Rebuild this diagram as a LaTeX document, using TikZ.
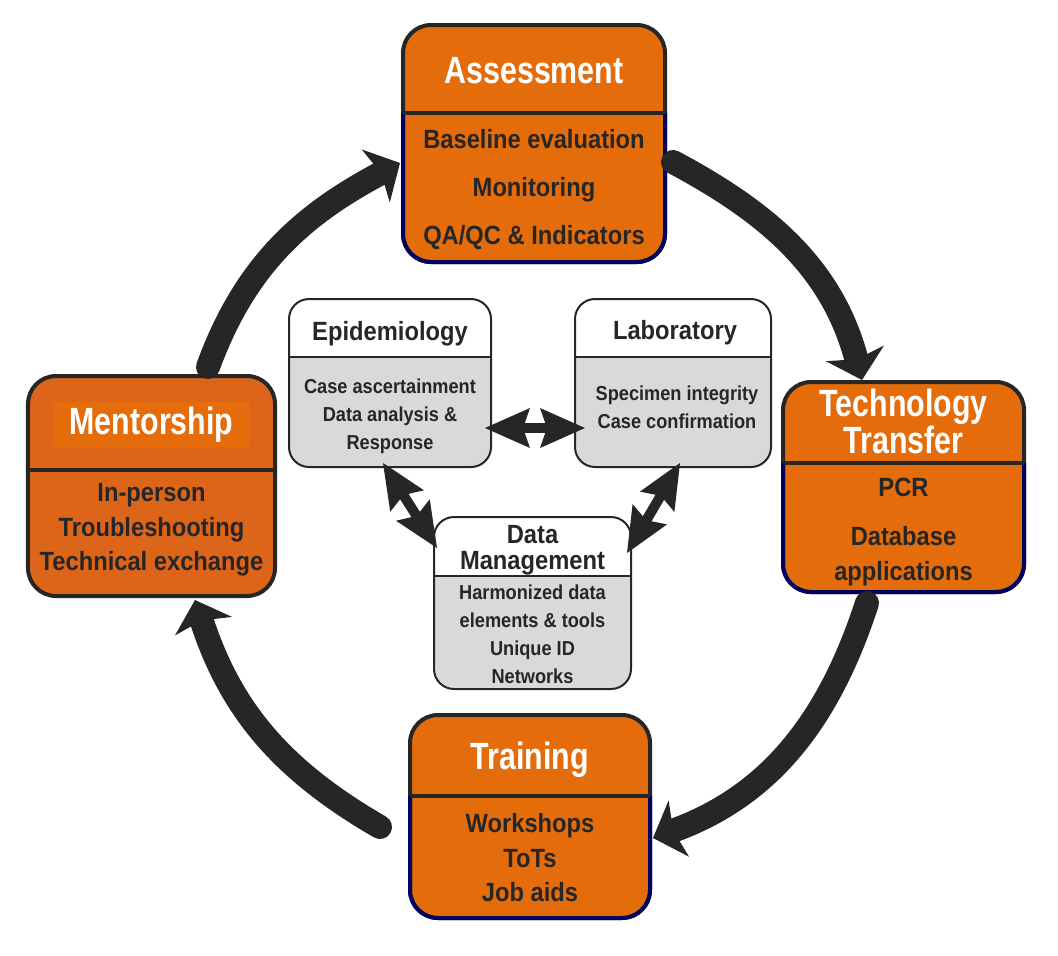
\documentclass[tikz,border=0pt]{standalone}
\usepackage{fontspec}
\setmainfont{Liberation Sans}[FakeStretch=0.9]
\newfontfamily\headfont{Liberation Sans}[FakeStretch=0.8]
\usepackage{xcolor}
\usetikzlibrary{arrows.meta,positioning,calc}
\definecolor{orng}{RGB}{228,108,10}
\definecolor{orngm}{RGB}{221,101,26}
\definecolor{ink}{RGB}{38,38,38}
\definecolor{rimblue}{RGB}{0,0,96}
\definecolor{paleg}{RGB}{217,217,217}

\begin{document}
\begin{tikzpicture}[x=0.2mm, y=0.2mm,
  card/.style={draw=ink, line width=0.8mm, fill=orng, rounded corners=5.6mm, outer sep=0pt},
  rim/.style={draw=rimblue, line width=0.8mm, rounded corners=5.6mm},
  bar/.style={draw=ink, line width=0.8mm},
  pane/.style={draw=ink, line width=0.4mm, fill=paleg, rounded corners=4mm, outer sep=0pt,
    path picture={\fill[white, sharp corners] (path picture bounding box.north west) rectangle ([yshift=-#1]path picture bounding box.north east);}},
  thinbar/.style={draw=ink, line width=0.4mm},
  ttl/.style={font=\headfont\bfseries\fontsize{21.6}{18.5}\selectfont, text=white, align=center, inner sep=0pt},
  txt/.style={font=\bfseries\fontsize{15}{19.6}\selectfont, text=ink, align=center, inner sep=0pt},
  sub/.style={font=\bfseries\fontsize{15}{14.5}\selectfont, text=ink, align=center, inner sep=0pt},
  subtxt/.style={font=\bfseries\fontsize{11.5}{16}\selectfont, text=ink, align=center, inner sep=0pt},
  cyc/.style={draw=ink, line width=4.8mm, line cap=round, -{Stealth[length=5.5mm, width=12mm, inset=1.2mm, line width=0pt]}},
  link/.style={draw=ink, line width=2mm, {Stealth[length=9mm, width=8mm, inset=1.4mm, line width=0pt]}-{Stealth[length=9mm, width=8mm, inset=1.4mm, line width=0pt]}}]
\useasboundingbox (0,0) rectangle (1058,-955);

\node[card, minimum width=52.4mm, minimum height=47.4mm] (assess) at (534,-143.5) {};
\coordinate (assessD) at ($(assess.north)+(0,-88)$);
\draw[rim] (assessD -| assess.west) |- (assess.south) -| (assessD -| assess.east);
\draw[bar] (assessD -| assess.west) -- (assessD -| assess.east);
\node[ttl] (assessT) at ($(assess.north)+(0,-46)$) {Assessment};
\node[txt] (assessB) at ($(assess.north)+(0,-165)$) {Baseline evaluation\\[7.7pt]Monitoring\\[7.7pt]QA/QC \& Indicators};

\node[card, minimum width=48.2mm, minimum height=42mm] (tech) at (903.5,-487) {};
\coordinate (techD) at ($(tech.north)+(0,-81)$);
\draw[rim] (techD -| tech.west) |- (tech.south) -| (techD -| tech.east);
\draw[bar] (techD -| tech.west) -- (techD -| tech.east);
\node[ttl] (techT) at ($(tech.north)+(0,-39.5)$) {Technology\\Transfer};
\node[txt] (techB) at ($(tech.north)+(0,-150)$) {PCR\\[8.4pt]Database\\applications};

\node[card, fill=orngm, minimum width=49.4mm, minimum height=44mm] (ment) at (151.5,-486) {};
\coordinate (mentD) at ($(ment.north)+(0,-94)$);
\draw[bar] (mentD -| ment.west) -- (mentD -| ment.east);
\node[ttl, fill=orng, minimum width=39.4mm, minimum height=9mm] (mentT) at ($(ment.north)+(0,-48.5)$) {Mentorship};
\node[txt] (mentB) at ($(ment.north)+(0,-154)$) {In-person\\Troubleshooting\\Technical exchange};

\node[card, minimum width=48mm, minimum height=40.6mm] (train) at (530,-816.5) {};
\coordinate (trainD) at ($(train.north)+(0,-81)$);
\draw[rim] (trainD -| train.west) |- (train.south) -| (trainD -| train.east);
\draw[bar] (trainD -| train.west) -- (trainD -| train.east);
\node[ttl] (trainT) at ($(train.north)+(0,-44.5)$) {Training};
\node[txt] (trainB) at ($(train.north)+(0,-143)$) {Workshops\\ToTs\\Job aids};

\node[pane=11.6mm, minimum width=40.4mm, minimum height=33.6mm] (epi) at (390,-383) {};
\draw[thinbar] ($(epi.north west)+(0,-58)$) -- ($(epi.north east)+(0,-58)$);
\node[sub] (epiT) at ($(epi.north)+(0,-35)$) {Epidemiology};
\node[subtxt] (epiB) at ($(epi.north)+(0,-117)$) {Case ascertainment\\Data analysis \&\\Response};

\node[pane=11.6mm, minimum width=39.2mm, minimum height=33.6mm] (lab) at (673,-383) {};
\draw[thinbar] ($(lab.north west)+(0,-58)$) -- ($(lab.north east)+(0,-58)$);
\node[sub] (labT) at ($(lab.north)+(2,-34)$) {Laboratory};
\node[subtxt] (labB) at ($(lab.north)+(4,-108)$) {Specimen integrity\\Case confirmation};

\node[pane=11.8mm, minimum width=39.4mm, minimum height=34.4mm] (dm) at (532.5,-603) {};
\draw[thinbar] ($(dm.north west)+(0,-59)$) -- ($(dm.north east)+(0,-59)$);
\node[sub] (dmT) at ($(dm.north)+(0,-33)$) {Data\\Management};
\node[subtxt] (dmB) at ($(dm.north)+(0,-117)$) {Harmonized data\\elements \& tools\\Unique ID\\Networks};

\draw[link] ($(epi.east)+(-6,-45)$) -- ($(lab.west)+(10,-45)$);
\draw[link] ($(epi.south)+(-7,4)$) -- ($(dm.north west)+(3,-31)$);
\draw[link] ($(lab.south)+(7,4)$) -- ($(dm.north east)+(-4,-36)$);

\draw[cyc] ($(assess.east)+(8,-18.5)$) to[out=-28, in=105] ($(tech.north)+(-41.5,2)$);
\draw[cyc] ($(tech.south)+(-36.5,-11)$) to[out=-108, in=20] ($(train.east)+(3,-21.5)$);
\draw[cyc] ($(train.west)+(-30,-10.5)$) to[out=150, in=-72] ($(ment.south)+(43.5,-4)$);
\draw[cyc] ($(ment.north)+(56.5,9)$) to[out=70, in=-152] ($(assess.west)+(-3,-19.5)$);
\end{tikzpicture}
\end{document}
